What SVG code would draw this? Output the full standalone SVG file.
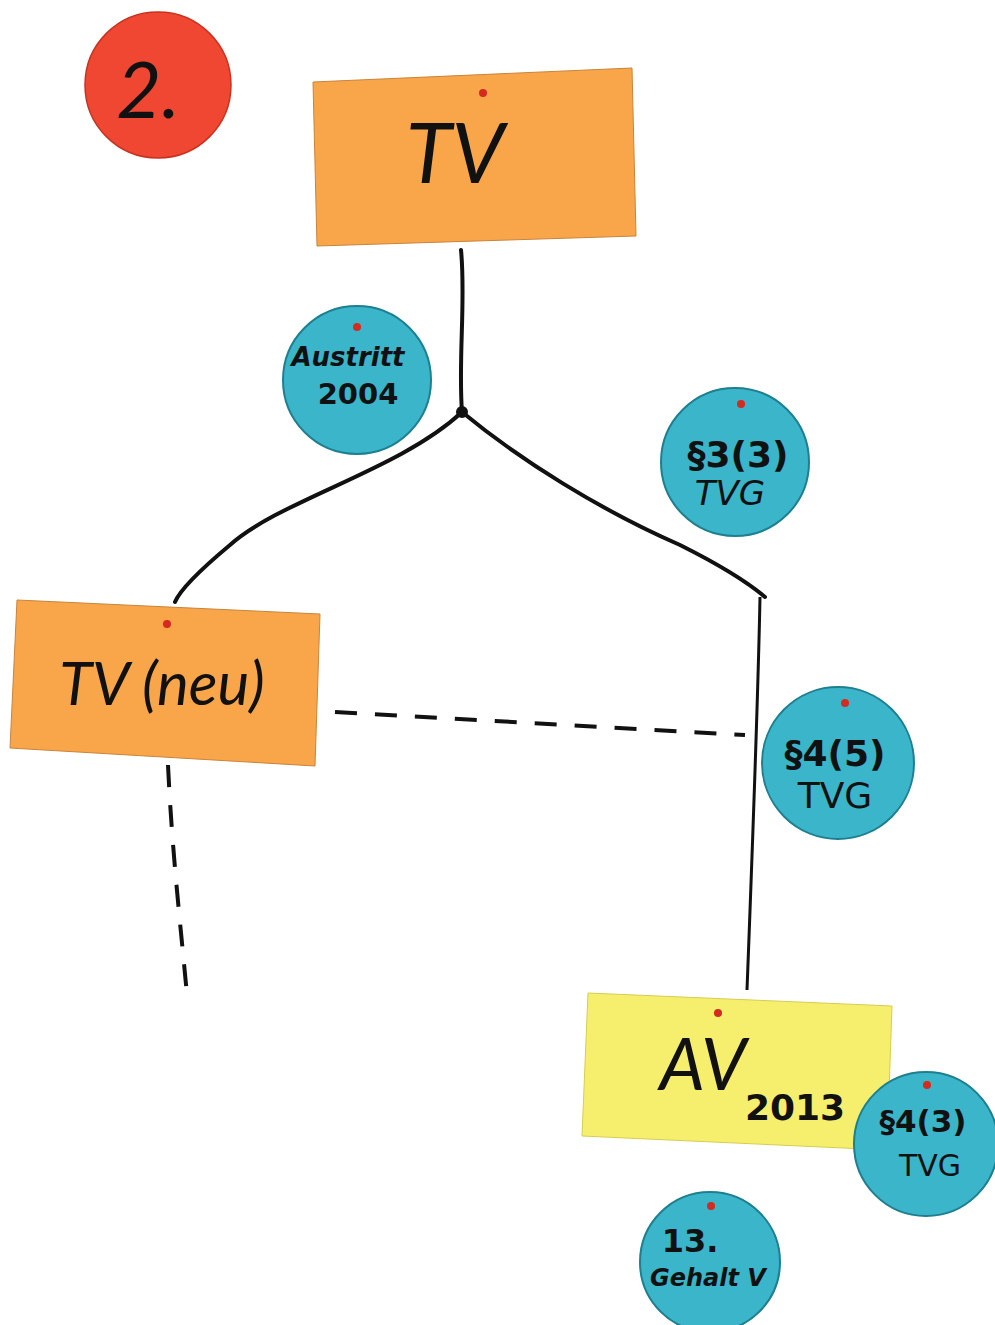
<svg xmlns="http://www.w3.org/2000/svg" width="995" height="1325" viewBox="0 0 995 1325">
<style>
.note{stroke:#c9843a;stroke-width:1}
.orange{fill:#f9a64a}
.yellow{fill:#f6ef6e;stroke:#d8cc50}
.disc{fill:#3bb5c9;stroke:#1d7f90;stroke-width:2}
.pin{fill:#d42a20}
.t{font-family:"DejaVu Sans","Liberation Sans",sans-serif;fill:#111;text-anchor:middle}
.big{font-family:Lato,"DejaVu Sans",sans-serif;font-weight:normal;font-style:italic}
.line{fill:none;stroke:#111;stroke-width:4;stroke-linecap:round}
.thin{fill:none;stroke:#111;stroke-width:3}
.dash{fill:none;stroke:#111;stroke-width:4;stroke-dasharray:22 18}
</style>
<rect width="995" height="1325" fill="#ffffff"/>
<g id="connectors">
<path class="line" d="M461 250 C466 300 458 360 462 412"/>
<circle cx="462" cy="412" r="6" fill="#111"/>
<path class="line" d="M462 412 C400 470 280 500 230 545 C200 570 180 590 175 602"/>
<path class="line" d="M462 412 C520 460 600 510 680 545 C720 565 745 580 765 597"/>
<path class="thin" d="M760 597 C758 700 752 860 747 990"/>
<path class="dash" d="M335 712 L745 735"/>
<path class="dash" d="M168 765 C172 850 180 920 187 995"/>
</g>
<g id="badge2">
<circle cx="158" cy="85" r="73" fill="#f04733" stroke="#c8321f" stroke-width="1.5"/>
<text class="t big" x="148" y="118" font-size="78" font-weight="300">2.</text>
</g>
<g id="tv">
<polygon class="note orange" points="313,82 632,68 636,236 317,246"/>
<circle class="pin" cx="483" cy="93" r="4"/>
<text class="t big" x="455" y="183" font-size="84">TV</text>
</g>
<g id="austritt">
<circle class="disc" cx="357" cy="380" r="74"/>
<circle class="pin" cx="357" cy="327" r="4"/>
<text class="t" x="348" y="366" font-size="26" font-weight="bold" font-style="italic">Austritt</text>
<text class="t" x="358" y="404" font-size="29" font-weight="bold">2004</text>
</g>
<g id="tvg33">
<circle class="disc" cx="735" cy="462" r="74"/>
<circle class="pin" cx="741" cy="404" r="4"/>
<text class="t" x="738" y="467" font-size="36" font-weight="bold">§3(3)</text>
<text class="t" x="730" y="505" font-size="34" font-style="italic">TVG</text>
</g>
<g id="tvneu">
<polygon class="note orange" points="17,600 320,614 315,766 10,748"/>
<circle class="pin" cx="167" cy="624" r="4"/>
<text class="t big" x="162" y="705" font-size="60">TV (neu)</text>
</g>
<g id="tvg45">
<circle class="disc" cx="838" cy="763" r="76"/>
<circle class="pin" cx="845" cy="703" r="4"/>
<text class="t" x="835" y="766" font-size="36" font-weight="bold">§4(5)</text>
<text class="t" x="835" y="808" font-size="36">TVG</text>
</g>
<g id="av2013">
<polygon class="note yellow" points="588,993 892,1006 887,1150 582,1136"/>
<circle class="pin" cx="718" cy="1013" r="4"/>
<text class="t big" x="703" y="1090" font-size="72">AV</text>
<text class="t" x="795" y="1120" font-size="36" font-weight="bold">2013</text>
</g>
<g id="tvg43">
<circle class="disc" cx="926" cy="1144" r="72"/>
<circle class="pin" cx="927" cy="1085" r="4"/>
<text class="t" x="923" y="1132" font-size="31" font-weight="bold">§4(3)</text>
<text class="t" x="930" y="1176" font-size="30">TVG</text>
</g>
<g id="gehalt">
<circle class="disc" cx="710" cy="1262" r="70"/>
<circle class="pin" cx="711" cy="1206" r="4"/>
<text class="t" x="690" y="1252" font-size="32" font-weight="bold">13.</text>
<text class="t" x="708" y="1286" font-size="24" font-weight="bold" font-style="italic">Gehalt V</text>
</g>
</svg>
